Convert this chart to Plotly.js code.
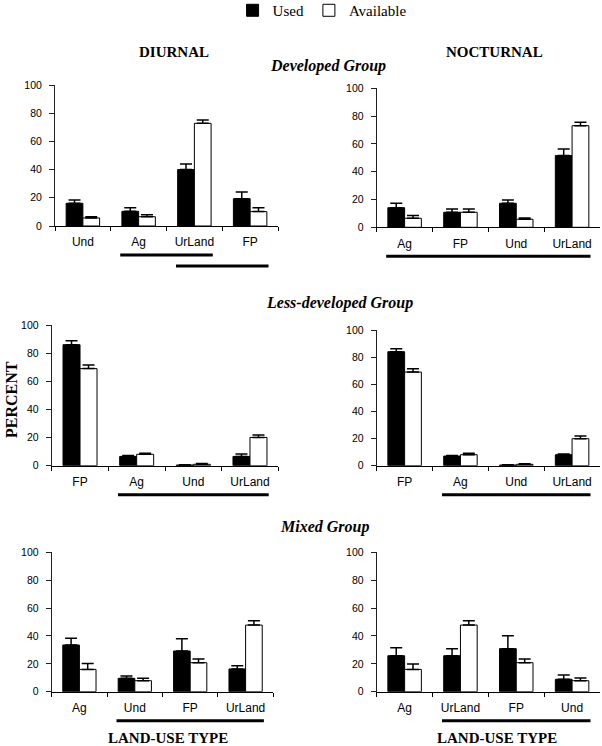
<!DOCTYPE html>
<html>
<head>
<meta charset="utf-8">
<script src="https://cdn.plot.ly/plotly-3.0.1.min.js"></script>
<style>html,body{margin:0;padding:0;background:#fff;}#chart{width:602px;height:746px;}</style>
</head>
<body>
<div id="chart"></div>
<script>
// ---- Data (percent) ----
const devDiurnalCats = ['Und', 'Ag', 'UrLand', 'FP'];
const devDiurnalUsed = [16.1, 10.4, 40.0, 19.4];
const devDiurnalUsedSE = [2.3, 2.6, 4.0, 4.7];
const devDiurnalAvail = [5.7, 6.6, 72.8, 10.2];
const devDiurnalAvailSE = [0.9, 1.4, 2.4, 2.8];
const devDiurnalSig = [['Ag', 'UrLand'], ['UrLand', 'FP']];

const devNocturnalCats = ['Ag', 'FP', 'Und', 'UrLand'];
const devNocturnalUsed = [14.1, 10.8, 17.3, 51.6];
const devNocturnalUsedSE = [3.2, 2.4, 2.4, 4.8];
const devNocturnalAvail = [6.5, 10.8, 5.8, 73.1];
const devNocturnalAvailSE = [1.9, 2.4, 0.9, 2.4];
const devNocturnalSig = [['Ag', 'UrLand']];

const lessDiurnalCats = ['FP', 'Ag', 'Und', 'UrLand'];
const lessDiurnalUsed = [86.0, 6.6, 0.5, 6.6];
const lessDiurnalUsedSE = [2.8, 0.7, 0.2, 1.7];
const lessDiurnalAvail = [69.0, 8.1, 1.0, 20.1];
const lessDiurnalAvailSE = [2.6, 0.7, 0.5, 1.7];
const lessDiurnalSig = [['Ag', 'UrLand']];

const lessNocturnalCats = ['FP', 'Ag', 'Und', 'UrLand'];
const lessNocturnalUsed = [84.0, 7.1, 0.5, 8.1];
const lessNocturnalUsedSE = [2.2, 0.5, 0.2, 0.5];
const lessNocturnalAvail = [69.0, 8.1, 1.0, 19.9];
const lessNocturnalAvailSE = [2.5, 1.0, 0.5, 2.0];
const lessNocturnalSig = [['Ag', 'UrLand']];

const mixDiurnalCats = ['Ag', 'Und', 'FP', 'UrLand'];
const mixDiurnalUsed = [33.5, 9.6, 29.2, 16.3];
const mixDiurnalUsedSE = [4.8, 1.6, 8.8, 2.4];
const mixDiurnalAvail = [16.0, 7.9, 20.8, 47.8];
const mixDiurnalAvailSE = [4.3, 1.7, 2.6, 3.1];
const mixDiurnalSig = [['Und', 'UrLand']];

const mixNocturnalCats = ['Ag', 'UrLand', 'FP', 'Und'];
const mixNocturnalUsed = [25.8, 25.8, 30.9, 8.9];
const mixNocturnalUsedSE = [5.8, 5.1, 9.3, 3.1];
const mixNocturnalAvail = [16.0, 47.8, 20.8, 7.9];
const mixNocturnalAvailSE = [3.9, 3.1, 2.6, 1.9];
const mixNocturnalSig = [['UrLand', 'Und']];

const seriesNames = ['Used', 'Available'];
const yTickVals = [0, 20, 40, 60, 80, 100];

// ---- Layout geometry ----
const W = 602, H = 746;
const panels = [
  {cats: devDiurnalCats, used: devDiurnalUsed, usedSE: devDiurnalUsedSE, avail: devDiurnalAvail, availSE: devDiurnalAvailSE, sig: devDiurnalSig, px: [55, 278], py: [85, 226]},
  {cats: devNocturnalCats, used: devNocturnalUsed, usedSE: devNocturnalUsedSE, avail: devNocturnalAvail, availSE: devNocturnalAvailSE, sig: devNocturnalSig, px: [376.7, 600], py: [88.3, 227.3]},
  {cats: lessDiurnalCats, used: lessDiurnalUsed, usedSE: lessDiurnalUsedSE, avail: lessDiurnalAvail, availSE: lessDiurnalAvailSE, sig: lessDiurnalSig, px: [51.7, 278.3], py: [325, 465.7]},
  {cats: lessNocturnalCats, used: lessNocturnalUsed, usedSE: lessNocturnalUsedSE, avail: lessNocturnalAvail, availSE: lessNocturnalAvailSE, sig: lessNocturnalSig, px: [376.7, 600], py: [330, 465.7]},
  {cats: mixDiurnalCats, used: mixDiurnalUsed, usedSE: mixDiurnalUsedSE, avail: mixDiurnalAvail, availSE: mixDiurnalAvailSE, sig: mixDiurnalSig, px: [51.7, 273.3], py: [552.3, 691.7]},
  {cats: mixNocturnalCats, used: mixNocturnalUsed, usedSE: mixNocturnalUsedSE, avail: mixNocturnalAvail, availSE: mixNocturnalAvailSE, sig: mixNocturnalSig, px: [376.7, 600], py: [552.3, 691.7]}
];

const SANS = 'Liberation Sans, Arial, sans-serif';
const SERIF = 'Liberation Serif, Times New Roman, serif';

const traces = [];
const layout = {
  width: W, height: H,
  margin: {l: 0, r: 0, t: 0, b: 0, autoexpand: false},
  paper_bgcolor: '#fff', plot_bgcolor: '#fff',
  barmode: 'group', bargap: 0.4, bargroupgap: 0,
  showlegend: true,
  legend: {orientation: 'h', x: 0.535, xanchor: 'center', y: 1.008, yanchor: 'top',
           font: {family: SERIF, size: 15, color: '#000'}, traceorder: 'normal',
           itemwidth: 30, bgcolor: 'rgba(0,0,0,0)'},
  shapes: [], annotations: [],
  font: {family: SANS, color: '#000'}
};

panels.forEach((p, i) => {
  const n = i + 1;
  const xa = n === 1 ? 'x' : 'x' + n;
  const ya = n === 1 ? 'y' : 'y' + n;
  const zeros = p.usedSE.map(() => 0);
  traces.push({
    type: 'bar', name: seriesNames[0], x: p.cats, y: p.used, xaxis: xa, yaxis: ya,
    marker: {color: '#000', line: {color: '#000', width: 1}},
    error_y: {type: 'data', symmetric: false, array: p.usedSE, arrayminus: zeros, color: '#000', thickness: 1.5, width: 6},
    showlegend: n === 1, legendgroup: 'used', hoverinfo: 'skip'
  });
  traces.push({
    type: 'bar', name: seriesNames[1], x: p.cats, y: p.avail, xaxis: xa, yaxis: ya,
    marker: {color: '#fff', line: {color: '#000', width: 1}},
    error_y: {type: 'data', symmetric: false, array: p.availSE, arrayminus: zeros, color: '#000', thickness: 1.5, width: 6},
    showlegend: n === 1, legendgroup: 'avail', hoverinfo: 'skip'
  });
  const xd = [p.px[0] / W, p.px[1] / W];
  const yd = [1 - p.py[1] / H, 1 - p.py[0] / H];
  layout['xaxis' + (n === 1 ? '' : n)] = {
    domain: xd, anchor: ya, type: 'category', range: [-0.5, 3.5],
    showline: true, linecolor: '#000', linewidth: 1, mirror: false,
    ticks: 'outside', tickson: 'boundaries', ticklen: 4, tickcolor: '#000', tickwidth: 1,
    ticklabelstandoff: 5,
    showgrid: false, zeroline: false, automargin: false,
    tickfont: {family: SANS, size: 12, color: '#000'}, fixedrange: true
  };
  layout['yaxis' + (n === 1 ? '' : n)] = {
    domain: yd, anchor: xa, range: [0, 100], tickvals: yTickVals,
    showline: true, linecolor: '#222', linewidth: 1,
    ticks: 'outside', ticklen: 5, tickcolor: '#222', tickwidth: 1,
    ticklabelstandoff: 5,
    showgrid: false, zeroline: false, automargin: false,
    tickfont: {family: SANS, size: 10.5, color: '#000'}, fixedrange: true
  };
  p.sig.forEach((pair, k) => {
    const a = p.cats.indexOf(pair[0]);
    const b = p.cats.indexOf(pair[1]);
    const yy = yd[0] - (29 + 11 * k) / H;
    layout.shapes.push({type: 'line', xref: xa, yref: 'paper', x0: a - 0.33, x1: b + 0.33, y0: yy, y1: yy,
                        line: {color: '#000', width: 3}});
  });
});

function ann(text, px, py, size, extra) {
  layout.annotations.push(Object.assign({
    text: text, xref: 'paper', yref: 'paper', x: px / W, y: 1 - py / H,
    xanchor: 'center', yanchor: 'middle', showarrow: false,
    font: {family: SERIF, size: size, color: '#000'}
  }, extra || {}));
}
ann('<b>DIURNAL</b>', 174, 52, 15);
ann('<b>NOCTURNAL</b>', 494, 52, 15);
ann('<b><i>Developed Group</i></b>', 328, 66, 16);
ann('<b><i>Less-developed Group</i></b>', 339, 303, 16);
ann('<b><i>Mixed Group</i></b>', 324, 527, 16);
ann('<b>PERCENT</b>', 11, 400, 16, {textangle: -90});
ann('<b>LAND-USE TYPE</b>', 168, 738, 15);
ann('<b>LAND-USE TYPE</b>', 497, 738, 15);

Plotly.newPlot('chart', traces, layout, {staticPlot: true, displayModeBar: false});
</script>
</body>
</html>
